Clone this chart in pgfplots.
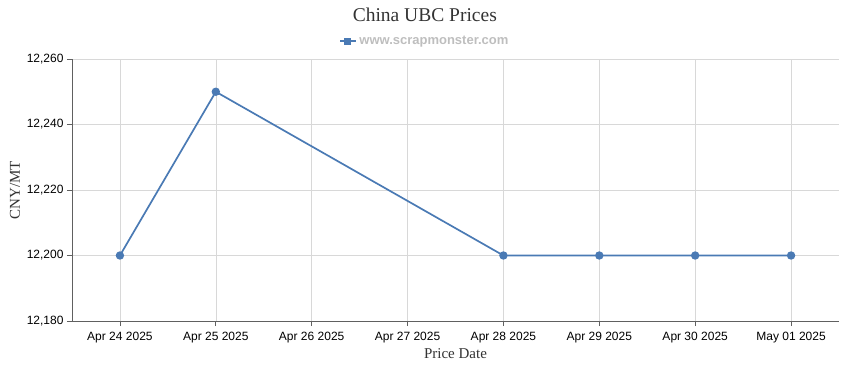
\documentclass[border=0pt]{standalone}
\usepackage{fontspec}
\setmainfont{Liberation Serif}
\newfontfamily\tickfont{Liberation Sans}
\usepackage{pgfplots}
\pgfplotsset{compat=1.18}
\definecolor{serie}{RGB}{74,122,180}
\definecolor{gridc}{RGB}{216,216,216}
\definecolor{axc}{RGB}{96,96,96}
\definecolor{legtxt}{RGB}{190,190,190}
\begin{document}
\begin{tikzpicture}
\path[use as bounding box] (-72pt,-49pt) rectangle (778pt,321pt);
\begin{axis}[
  at={(0,0)}, anchor=south west,
  scale only axis, width=767pt, height=262pt,
  xmin=-0.5, xmax=7.5, ymin=12180, ymax=12260,
  scaled y ticks=false,
  axis x line*=bottom, axis y line*=left,
  axis line style={axc, line width=0.8pt, -},
  xtick={0,1,2,3,4,5,6,7},
  xticklabels={Apr 24 2025,Apr 25 2025,Apr 26 2025,Apr 27 2025,Apr 28 2025,Apr 29 2025,Apr 30 2025,May 01 2025},
  ytick={12180,12200,12220,12240,12260},
  yticklabels={{12,180},{12,200},{12,220},{12,240},{12,260}},
  tick style={axc, line width=0.8pt},
  tick align=outside, major tick length=5pt,
  grid=major, major grid style={gridc, line width=0.6pt},
  ticklabel style={font=\tickfont\fontsize{12}{14}\selectfont, text=black},
  xticklabel style={yshift=-3pt},
  xlabel={Price Date}, ylabel={CNY/MT},
  label style={font=\fontsize{15}{17}\selectfont, text=black!80},
  xlabel style={at={(axis description cs:0.5,-0.126)}, anchor=center},
  ylabel style={at={(axis description cs:-0.0745,0.5)}, anchor=center, rotate=0},
  title={China UBC Prices},
  title style={at={(axis description cs:0.46,1.145)}, anchor=center, font=\fontsize{19.5}{22}\selectfont, text=black!80},
  legend style={at={(axis description cs:0.46,1.068)}, anchor=center, draw=none, fill=none,
    font=\tickfont\bfseries\fontsize{13}{15}\selectfont, text=legtxt, inner sep=0pt},
  legend image code/.code={
    \draw[serie, line width=2.2pt] (0pt,0pt) -- (16pt,0pt);
    \fill[serie] (5pt,-2.5pt) rectangle (10pt,2.5pt);
  },
]
\addplot[serie, line width=1.7pt, mark=*, mark size=3.3pt, mark options={fill=serie, draw=serie}]
  coordinates {(0,12200) (1,12250) (4,12200) (5,12200) (6,12200) (7,12200)};
\addlegendentry{www.scrapmonster.com}
\end{axis}
\end{tikzpicture}
\end{document}
